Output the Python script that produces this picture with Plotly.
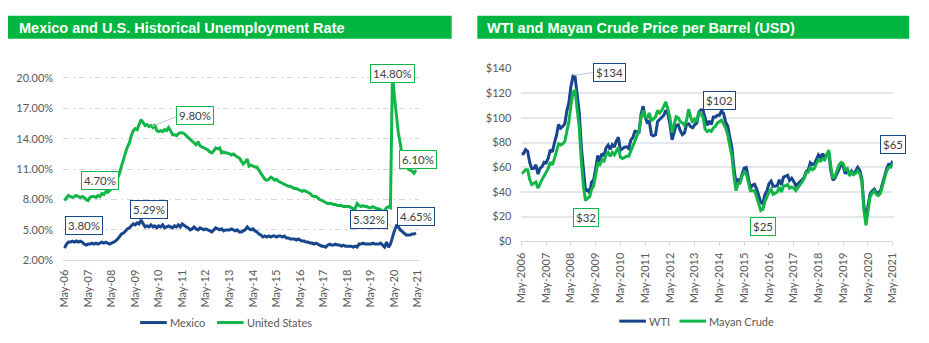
import pandas as pd
import plotly.graph_objects as go

W, H = 929, 343
NAVY = "#17468C"
GREEN = "#12B548"
BAR = "#00B640"
TXT = "#595959"
LBL = "#404040"

# ---------------- data: left chart (monthly, May-2006 .. Apr-2021) ----------------
us_plot = [
    7.9, 8.2, 8.4, 8.3, 8.2, 8.3, 8.4, 8.3, 8.2, 8.3, 8.2, 8.0,
    7.9, 8.2, 8.3, 8.3, 8.2, 8.4, 8.3, 8.6, 8.5, 8.8, 8.7, 8.9,
    9.1, 9.5, 9.9, 10.1, 10.6, 11.3, 12.1, 12.6, 13.2, 13.6, 14.3, 14.8,
    15.0, 14.9, 15.4, 15.9, 15.6, 15.3, 15.4, 15.2, 15.3, 15.1, 15.4, 14.8,
    14.7, 14.8, 14.7, 14.9, 14.8, 15.1, 14.8, 14.4, 14.4, 14.3, 14.5, 14.6,
    14.6, 14.5, 14.3, 14.1, 14.0, 13.8, 13.6, 13.4, 13.7, 13.3, 13.2, 13.1,
    13.0, 12.9, 12.7, 12.6, 12.8, 13.1, 13.0, 13.1, 12.6, 12.7, 12.6, 12.6,
    12.5, 12.4, 12.5, 12.3, 12.2, 12.1, 11.8, 11.5, 11.7, 12.0, 11.3, 11.4,
    11.3, 11.2, 11.2, 10.9, 10.7, 10.4, 10.0, 9.9, 10.0, 10.2, 10.1, 9.9,
    10.0, 9.8, 9.7, 9.6, 9.5, 9.4, 9.3, 9.3, 9.2, 9.1, 9.1, 9.0,
    8.9, 8.8, 8.9, 8.8, 8.7, 8.6, 8.4, 8.3, 8.3, 8.1, 8.0, 7.9,
    7.8, 7.7, 7.6, 7.6, 7.6, 7.5, 7.5, 7.4, 7.4, 7.4, 7.3, 7.3,
    7.3, 7.3, 7.2, 7.1, 7.1, 7.6, 7.4, 7.3, 7.4, 7.3, 7.3, 7.2,
    7.2, 7.3, 7.2, 7.1, 7.1, 7.0, 6.8, 6.9, 7.2, 7.3, 7.2, 20.5,
    18.2, 16.0, 14.6, 13.5, 12.2, 11.5, 11.3, 11.0, 10.9, 10.8, 10.6, 10.9,
]
mex_plot = [
    3.2, 3.6, 3.8, 3.8, 3.9, 3.8, 3.9, 3.8, 3.9, 3.8, 3.6, 3.5,
    3.6, 3.6, 3.7, 3.6, 3.7, 3.6, 3.7, 3.8, 3.7, 3.8, 3.7, 3.6,
    3.7, 3.8, 3.9, 4.1, 4.4, 4.6, 4.7, 4.9, 5.1, 5.2, 5.4, 5.6,
    5.5, 5.7, 5.6, 6.0, 5.6, 5.3, 5.4, 5.3, 5.5, 5.3, 5.4, 5.2,
    5.4, 5.3, 5.5, 5.2, 5.3, 5.4, 5.3, 5.2, 5.4, 5.3, 5.5, 5.3,
    5.6, 5.4, 5.3, 5.2, 5.0, 5.1, 5.3, 5.1, 5.0, 5.2, 5.1, 5.0,
    5.1, 5.0, 4.9, 4.8, 5.0, 5.2, 5.1, 5.0, 5.1, 4.9, 5.0, 5.0,
    5.0, 5.1, 5.0, 4.9, 5.0, 4.8, 4.8, 4.9, 5.0, 5.3, 5.1, 5.0,
    5.1, 4.9, 4.8, 4.6, 4.5, 4.3, 4.4, 4.3, 4.4, 4.3, 4.4, 4.4,
    4.3, 4.4, 4.4, 4.3, 4.4, 4.2, 4.2, 4.1, 4.1, 4.1, 4.0, 4.1,
    4.0, 3.9, 3.9, 3.8, 3.8, 3.7, 3.7, 3.6, 3.7, 3.6, 3.5, 3.4,
    3.4, 3.3, 3.5, 3.6, 3.5, 3.5, 3.6, 3.5, 3.5, 3.4, 3.5, 3.4,
    3.4, 3.4, 3.4, 3.3, 3.4, 3.3, 3.6, 3.6, 3.7, 3.6, 3.6, 3.6,
    3.6, 3.7, 3.6, 3.6, 3.6, 3.7, 3.5, 3.3, 3.8, 3.3, 3.6, 4.4,
    4.9, 5.4, 5.3, 5.0, 4.8, 4.6, 4.5, 4.5, 4.5, 4.6, 4.6, 4.7,
]
left_yticks = [2, 5, 8, 11, 14, 17, 20]
left_ytext = ["2.00%", "5.00%", "8.00%", "11.00%", "14.00%", "17.00%", "20.00%"]
left_labels = ["3.80%", "5.29%", "4.70%", "9.80%", "14.80%", "6.10%", "5.32%", "4.65%"]

# ---------------- data: right chart (monthly, May-2006 .. May-2021) ----------------
wti = [
    70.9, 71.0, 74.4, 73.0, 63.8, 58.9, 59.1, 62.0,
    54.5, 59.3, 60.4, 64.0, 63.5, 67.5, 74.1, 72.4, 79.9, 85.8, 94.8, 91.7,
    93.0, 95.4, 105.5, 112.6, 125.4, 133.9, 133.4, 116.7, 104.1, 76.6, 57.3, 41.1,
    41.7, 39.1, 47.9, 49.7, 59.0, 69.6, 64.2, 71.1, 69.4, 75.7, 78.0, 74.5,
    78.3, 76.4, 81.2, 84.3, 73.7, 75.3, 76.3, 76.6, 75.2, 81.9, 84.3, 89.2,
    89.2, 88.6, 102.9, 109.5, 100.9, 96.3, 97.3, 86.3, 85.5, 86.3, 97.2, 98.6,
    100.3, 102.2, 106.2, 103.3, 94.7, 82.3, 87.9, 94.1, 94.5, 89.5, 86.5, 87.9,
    94.8, 95.3, 92.9, 92.0, 94.5, 95.8, 104.7, 106.6, 106.3, 100.5, 93.9, 97.6,
    94.6, 100.8, 100.8, 102.1, 102.2, 105.8, 103.6, 96.5, 93.2, 84.4, 75.8, 59.3,
    47.2, 50.6, 47.8, 54.5, 59.3, 59.8, 50.9, 42.9, 45.5, 46.2, 42.4, 37.2,
    31.7, 30.3, 37.6, 40.8, 46.7, 48.8, 44.7, 44.7, 45.2, 49.8, 45.7, 52.0,
    52.5, 53.5, 49.3, 51.1, 48.5, 45.2, 46.6, 48.0, 49.8, 51.6, 56.6, 57.9,
    63.7, 62.2, 62.7, 66.3, 70.0, 67.9, 71.0, 68.1, 70.2, 70.8, 57.0, 49.5,
    51.4, 55.0, 58.2, 63.9, 60.8, 54.7, 57.4, 54.8, 57.0, 54.0, 57.0, 59.9,
    57.5, 50.5, 29.2, 16.6, 28.6, 38.3, 40.7, 42.3, 39.6, 39.4, 40.9, 47.0,
    52.0, 59.0, 62.3, 61.7, 65.2,
]
maya = [
    55, 56, 58, 58, 50, 46, 47, 48,
    43, 47, 50, 53, 56, 59, 64, 62, 67, 74, 79, 78,
    79, 81, 90, 97, 110, 121, 122, 108, 92, 65, 45, 33,
    35, 36, 42, 45, 54, 63, 62, 66, 65, 70, 72, 69,
    72, 70, 73, 76, 68, 67, 68, 69, 69, 73, 77, 82,
    85, 90, 100, 106, 101, 100, 104, 98, 99, 101, 106, 104,
    106, 110, 113, 107, 100, 88, 95, 101, 100, 97, 96, 94,
    98, 107, 101, 96, 99, 97, 105, 103, 101, 91, 89, 90,
    89, 92, 93, 96, 97, 98, 95, 92, 86, 78, 69, 53,
    41, 47, 47, 53, 56, 55, 48, 41, 41, 41, 36, 30,
    25, 26, 32, 36, 40, 42, 38, 39, 40, 44, 40, 45,
    45, 46, 43, 44, 43, 41, 43, 45, 48, 51, 56, 56,
    60, 58, 59, 63, 66, 65, 67, 66, 70, 74, 60, 51,
    53, 58, 62, 64, 63, 58, 59, 53, 56, 54, 55, 57,
    55, 48, 26, 13, 25, 36, 39, 41, 38, 37, 39, 45,
    50, 57, 60, 60, 63,
]
right_labels = ["$134", "$102", "$32", "$25", "$65"]

left_dates = pd.date_range("2006-05-01", periods=len(us_plot), freq="MS")
right_dates = pd.date_range("2006-05-01", periods=len(wti), freq="MS")


def px(x):
    return x / W


def py(y):
    return 1 - y / H


fig = go.Figure()
fig.add_trace(go.Scatter(x=left_dates, y=mex_plot, mode="lines", name="Mexico",
                         line=dict(color=NAVY, width=3), xaxis="x", yaxis="y"))
fig.add_trace(go.Scatter(x=left_dates, y=us_plot, mode="lines", name="United States",
                         line=dict(color=GREEN, width=3), xaxis="x", yaxis="y"))
fig.add_trace(go.Scatter(x=right_dates, y=wti, mode="lines", name="WTI",
                         line=dict(color=NAVY, width=3), xaxis="x2", yaxis="y2"))
fig.add_trace(go.Scatter(x=right_dates, y=maya, mode="lines", name="Mayan Crude",
                         line=dict(color=GREEN, width=3), xaxis="x2", yaxis="y2"))

tickfont = dict(family="Lato", size=11, color=TXT)

fig.update_layout(
    width=W, height=H, margin=dict(l=0, r=0, t=0, b=0),
    paper_bgcolor="white", plot_bgcolor="white", showlegend=False,
    xaxis=dict(domain=[px(57), px(418)], type="date",
               range=["2006-04-11", "2021-05-20"],
               tick0="2006-05-01", dtick="M12", tickformat="%b-%y", tickangle=-90,
               tickfont=tickfont, showgrid=False, showline=True, linecolor="#D9D9D9",
               linewidth=1, ticks="", ticklabelstandoff=4, zeroline=False),
    yaxis=dict(domain=[py(263.3), py(63.2)], range=[2, 21],
               tickmode="array", tickvals=left_yticks, ticktext=left_ytext,
               tickfont=tickfont, showgrid=True, gridcolor="#D6D6D6",
               griddash="6px,4px,2px,4px", gridwidth=1,
               zeroline=False, showline=False, ticklabelstandoff=9),
    xaxis2=dict(domain=[px(521.7), px(898.3)], type="date",
                range=["2006-05-01", "2021-05-01"],
                tick0="2006-05-01", dtick="M12", tickformat="%b-%Y", tickangle=-90,
                tickfont=tickfont, showgrid=False, showline=True, linecolor="#D9D9D9",
                linewidth=1, ticks="outside", ticklen=4, tickcolor="#D9D9D9",
                ticklabelstandoff=2, zeroline=False, anchor="y2"),
    yaxis2=dict(domain=[py(243.5), py(64)], range=[0, 140], dtick=20,
                tickprefix="$", tickfont=tickfont, showgrid=True, gridcolor="#E3E6EA",
                gridwidth=1.5, zeroline=False, showline=False,
                ticklabelstandoff=9, anchor="x2"),
)

shapes = []
annotations = []

# title bars
for (x0, x1, title, tx) in [
    (1, 451, "Mexico and U.S. Historical Unemployment Rate", 10),
    (477, 915, "WTI and Mayan Crude Price per Barrel (USD)", 485),
]:
    shapes.append(dict(type="rect", xref="paper", yref="paper",
                       x0=px(x0), x1=px(x1), y0=py(33), y1=py(9),
                       fillcolor=BAR, line=dict(width=0), layer="below"))
    annotations.append(dict(xref="paper", yref="paper", x=px(tx), y=py(21.5),
                            xanchor="left", yanchor="middle", showarrow=False,
                            text="<b>" + title + "</b>",
                            font=dict(family="Liberation Sans", size=14.5, color="white")))

# leader lines
for (x0, y0, x1, y1) in [(147, 124, 172, 114), (575, 71, 595, 68), (385, 224, 393, 231)]:
    shapes.append(dict(type="line", xref="paper", yref="paper",
                       x0=px(x0), y0=py(y0), x1=px(x1), y1=py(y1),
                       line=dict(color="#BFC5CC", width=1)))

# data labels
left_pos = [(78.5, 227.5, NAVY), (144, 210.5, NAVY), (94.5, 180.5, GREEN),
            (190.5, 112.5, GREEN), (391.3, 69.2, GREEN), (417.3, 158.3, GREEN),
            (366.7, 220.8, NAVY), (415.2, 218.2, NAVY)]
right_pos = [(610.8, 68.3, NAVY), (723, 96.7, NAVY), (587.5, 218.8, GREEN),
             (766.7, 228.5, GREEN), (898.3, 143.3, NAVY)]
for txt, (x, y, c) in list(zip(left_labels, left_pos)) + list(zip(right_labels, right_pos)):
    annotations.append(dict(xref="paper", yref="paper", x=px(x), y=py(y),
                            xanchor="center", yanchor="middle", showarrow=False,
                            text=txt, bgcolor="white", bordercolor=c, borderwidth=1,
                            borderpad=2,
                            font=dict(family="Lato", size=11.5, color=LBL)))

# legends
for (x0, x1, y, c, name) in [
    (135, 162, 328, NAVY, "Mexico"), (213, 240, 328, GREEN, "United States"),
    (621, 648, 326.5, NAVY, "WTI"), (682, 709, 326.5, GREEN, "Mayan Crude"),
]:
    shapes.append(dict(type="line", xref="paper", yref="paper",
                       x0=px(x0), x1=px(x1), y0=py(y), y1=py(y),
                       line=dict(color=c, width=3)))
    annotations.append(dict(xref="paper", yref="paper", x=px(x1 + 1), y=py(y),
                            xanchor="left", yanchor="middle", showarrow=False,
                            text=name, font=dict(family="Lato", size=11, color=TXT)))

fig.update_layout(shapes=shapes, annotations=annotations)
fig.write_html("out.html")
